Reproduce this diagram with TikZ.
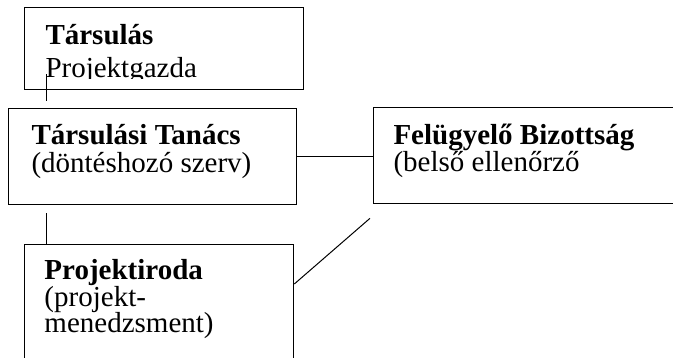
\documentclass[tikz,border=0pt]{standalone}
\usepackage{fontspec}
\setmainfont{Liberation Serif}
\usetikzlibrary{positioning}

\begin{document}
\begin{tikzpicture}[x=1pt,y=-1pt,-,line width=1pt]
  \tikzstyle{doboz}=[draw, rectangle, line width=1.3pt, anchor=north west, inner sep=0pt]
  \tikzstyle{felirat}=[anchor=base west, inner sep=0pt, text height=19pt, text depth=6pt, font=\fontsize{29}{27}\selectfont]
  \useasboundingbox (0,0) rectangle (673,358);
  \clip (0,0) rectangle (673,358);
  % dobozok
  \node[doboz, minimum width=279pt, minimum height=82pt] (TS) at (24,7) {};
  \node[doboz, minimum width=288pt, minimum height=96pt] (TT) at (8,108) {};
  \node[doboz, minimum width=320pt, minimum height=96pt] (FB) at (373,107) {};
  \node[doboz, minimum width=269pt, minimum height=140pt] (PI) at (24,244) {};
  % feliratok
  \begin{scope}
    \clip (24,7) rectangle (303,79);
    \node[felirat] (TS1) at (45,45) {\textbf{Társulás}};
    \node[felirat] (TS2) at (45,78) {Projektgazda};
  \end{scope}
  \node[felirat] (TT1) at (31,145) {\textbf{Társulási Tanács}};
  \node[felirat] (TT2) at (31,173) {(döntéshozó szerv)};
  \node[felirat] (FB1) at (393,145) {\textbf{Felügyelő Bizottság}};
  \node[felirat] (FB2) at (393,172) {(belső ellenőrző};
  \node[felirat] (PI1) at (44,280) {\textbf{Projektiroda}};
  \node[felirat] (PI2) at (44,307) {(projekt-};
  \node[felirat] (PI3) at (44,333) {menedzsment)};
  % vonalak
  \draw ([xshift=22pt,yshift=16pt]TS.south west) -- ([xshift=38pt,yshift=7pt]TT.north west);
  \draw ([xshift=38pt,yshift=-8pt]TT.south west) -- ([xshift=22pt]PI.north west);
  \draw (TT.east) -- (TT.east -| FB.west);
  \draw ([yshift=-40pt]PI.north east) -- ([xshift=-3pt,yshift=-14pt]FB.south west);
\end{tikzpicture}
\end{document}
